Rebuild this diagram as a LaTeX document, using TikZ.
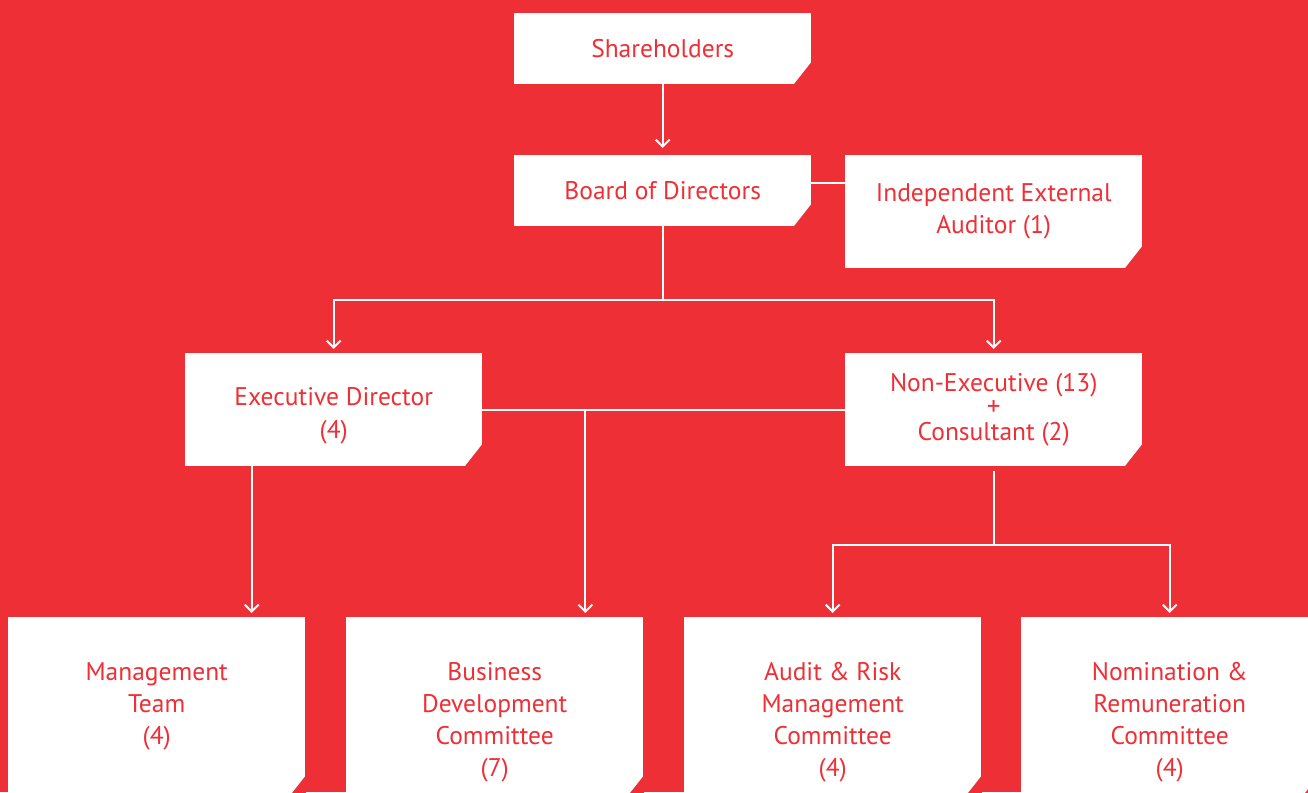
\documentclass[tikz,border=0pt]{standalone}
\usepackage{fontspec}
\setmainfont{PT Sans}
\usetikzlibrary{arrows.meta}
\definecolor{bgred}{RGB}{238,48,54}

\begin{document}
\begin{tikzpicture}[x=1pt, y=-1pt,
    box/.style={fill=white, text=bgred, align=center, inner sep=0pt,
        minimum width=297pt, minimum height=71pt, anchor=north west,
        font=\fontsize{25.5}{32}\selectfont},
    tallbox/.style={box, minimum height=113pt},
    lowbox/.style={box, minimum height=181pt},
    boxtext/.style={text=bgred, align=center, inner sep=0pt,
        font=\fontsize{25.5}{32}\selectfont},
    link/.style={draw=white, line width=2pt},
    arrow/.style={link, -{Straight Barb[length=7pt, width=14pt]}, shorten >=4pt}]

    % Red page
    \useasboundingbox (0,0) rectangle (1308,792);
    \clip (0,0) rectangle (1308,792);
    \fill[bgred] (0,0) rectangle (1308,792);

    % Top of the tree
    \node[box] (sh) at (514,13) {Shareholders};
    \node[box] (bod) at (514,155) {Board of Directors};
    \node[tallbox] (aud) at (845,155) {Independent External\\Auditor (1)};

    % Directors
    \node[tallbox] (exe) at (185,353) {\rule{0pt}{30pt}Executive Director\\[1pt](4)};
    \node[tallbox, font=\fontsize{25.5}{24.5}\selectfont] (nex) at (845,353)
        {Non-Executive (13)\\{\fontsize{27}{24.5}\selectfont +}\\Consultant (2)};

    % Committees
    \node[lowbox] (mgt) at (8,617) {};
    \node[lowbox] (bdc) at (346,617) {};
    \node[lowbox] (arm) at (684,617) {};
    \node[lowbox] (nrc) at (1021,617) {};
    \node[boxtext] (mgttext) at ([yshift=-89.5pt]mgt.north) {Management\\Team\\(4)};
    \node[boxtext] (bdctext) at ([yshift=-105.5pt]bdc.north) {Business\\Development\\Committee\\(7)};
    \node[boxtext] (armtext) at ([yshift=-105.5pt]arm.north) {Audit \& Risk\\Management\\Committee\\(4)};
    \node[boxtext] (nrctext) at ([yshift=-105.5pt]nrc.north) {Nomination \&\\Remuneration\\Committee\\(4)};

    % Cut corners
    \foreach \n in {sh,bod,aud,exe,nex,mgt,bdc,arm,nrc}
        \fill[bgred] ([shift={(0.5pt,23pt)}]\n.south east) -- ([shift={(0.5pt,-0.5pt)}]\n.south east)
            -- ([shift={(-18pt,-0.5pt)}]\n.south east) -- cycle;

    % Connectors
    \draw[arrow, shorten >=7pt] (sh) -- (bod);
    \coordinate (audjoin) at ([yshift=7.5pt]bod.east);
    \draw[link] (audjoin) -- (audjoin -| aud.west);
    \draw[arrow] (bod.south) -- ++(0,74) -| (exe.north);
    \draw[arrow] (bod.south) -- ++(0,74) -| (nex.north);
    \draw[link] (exe.east) -- (nex.west);

    \coordinate (bdcjoin) at ([xshift=103pt]exe.east);
    \draw[arrow] (bdcjoin) -- (bdcjoin |- bdc.north);
    \coordinate (mgtjoin) at ([xshift=-82pt]exe.south);
    \draw[arrow] (mgtjoin) -- (mgtjoin |- mgt.north);

    \draw[arrow] ([yshift=-5pt]nex.south) -- ++(0,74) -| (arm.north);
    \draw[arrow] ([yshift=-5pt]nex.south) -- ++(0,74) -| (nrc.north);

\end{tikzpicture}
\end{document}
